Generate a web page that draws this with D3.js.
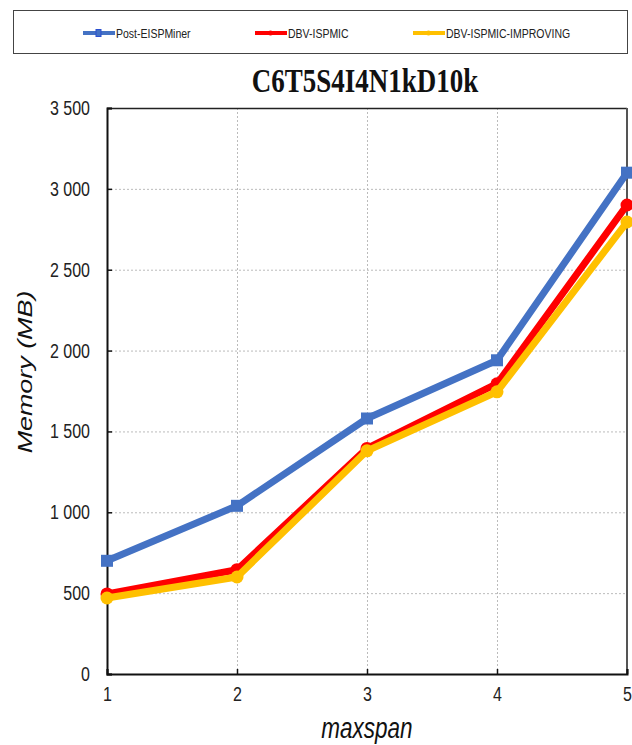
<!DOCTYPE html>
<html>
<head>
<meta charset="utf-8">
<script src="https://cdn.jsdelivr.net/npm/d3@7"></script>
<style>
  html, body { margin: 0; padding: 0; background: #fff; }
  svg { display: block; }
</style>
</head>
<body>
<svg id="chart" width="632" height="745"></svg>
<script>
// maxspan values on the x axis
const maxspan = [1, 2, 3, 4, 5];
// memory usage (MB) per algorithm
const postEISPMiner = [700, 1040, 1580, 1940, 3100];
const dbvISPMIC = [495, 645, 1395, 1795, 2900];
const dbvISPMICImproving = [470, 600, 1380, 1745, 2795];
const yTicks = [0, 500, 1000, 1500, 2000, 2500, 3000, 3500];
const seriesNames = ["Post-EISPMiner", "DBV-ISPMIC", "DBV-ISPMIC-IMPROVING"];
const chartTitle = "C6T5S4I4N1kD10k";

const series = [
  { name: seriesNames[0], values: postEISPMiner, color: "#4472C4", marker: "square" },
  { name: seriesNames[1], values: dbvISPMIC, color: "#FF0000", marker: "circle" },
  { name: seriesNames[2], values: dbvISPMICImproving, color: "#FFC000", marker: "circle" }
];

const svg = d3.select("#chart");
const plot = { left: 107, right: 627, top: 108, bottom: 674 };
const stretch = 1.28; // text is drawn taller than wide

const x = d3.scaleLinear().domain([1, 5]).range([plot.left, plot.right]);
const y = d3.scaleLinear().domain([0, 3500]).range([plot.bottom, plot.top]);

const fmt = v => d3.format(",")(v).replace(/,/g, " ");
const sans = "'Liberation Sans', Arial, sans-serif";

// legend box
svg.append("rect")
  .attr("x", 13.5).attr("y", 10.5).attr("width", 614).attr("height", 43)
  .attr("fill", "#fff").attr("stroke", "#444").attr("stroke-width", 1);

const legendX = [83, 255, 413];
series.forEach((s, i) => {
  const g = svg.append("g").attr("transform", `translate(${legendX[i]},33)`);
  g.append("line").attr("x1", 0).attr("x2", 32).attr("y1", 0).attr("y2", 0)
    .attr("stroke", s.color).attr("stroke-width", 4);
  if (s.marker === "square") {
    g.append("rect").attr("x", 13).attr("y", -3.5).attr("width", 5).attr("height", 7)
      .attr("fill", s.color).attr("stroke", "#2a4fd0").attr("stroke-width", 1);
  } else {
    g.append("circle").attr("cx", 15.5).attr("cy", 0).attr("r", 2.5).attr("fill", s.color);
  }
  g.append("text").attr("transform", `translate(33,4.5) scale(1,${stretch})`)
    .attr("font-family", "'Liberation Sans Narrow', 'Arial Narrow', sans-serif")
    .attr("font-size", 10.5).attr("fill", "#222").text(s.name);
});

// title
svg.append("text")
  .attr("transform", `translate(365,92) scale(1,1.22)`).attr("text-anchor", "middle")
  .attr("font-family", "'Liberation Serif', 'Times New Roman', serif")
  .attr("font-weight", "bold").attr("font-size", 27).attr("fill", "#111")
  .text(chartTitle);

// gridlines
const grid = svg.append("g");
grid.selectAll("line.h").data(yTicks.filter(v => v > 0 && v < 3500)).join("line")
  .attr("x1", plot.left).attr("x2", plot.right)
  .attr("y1", d => y(d) + 0.5).attr("y2", d => y(d) + 0.5)
  .attr("stroke", "#bbb").attr("stroke-width", 1).attr("stroke-dasharray", "2,2");
grid.selectAll("line.v").data(maxspan.filter(v => v > 1 && v < 5)).join("line")
  .attr("x1", d => x(d) + 0.5).attr("x2", d => x(d) + 0.5)
  .attr("y1", plot.top).attr("y2", plot.bottom)
  .attr("stroke", "#bbb").attr("stroke-width", 1).attr("stroke-dasharray", "2,2");

// plot frame (top and right)
svg.append("line").attr("x1", plot.left).attr("x2", plot.right)
  .attr("y1", plot.top + 0.5).attr("y2", plot.top + 0.5)
  .attr("stroke", "#222").attr("stroke-width", 1.5);
svg.append("line").attr("x1", plot.right).attr("x2", plot.right)
  .attr("y1", plot.top).attr("y2", plot.bottom)
  .attr("stroke", "#555").attr("stroke-width", 2);

// axes
const yAxis = d3.axisLeft(y).tickValues(yTicks).tickFormat(fmt).tickSize(-5).tickPadding(17);
const xAxis = d3.axisBottom(x).tickValues(maxspan).tickFormat(d3.format("d")).tickSize(-5).tickPadding(10);

const gy = svg.append("g").attr("transform", `translate(${plot.left},0)`).call(yAxis);
const gx = svg.append("g").attr("transform", `translate(0,${plot.bottom})`).call(xAxis);
[gy, gx].forEach(g => {
  g.select(".domain").attr("stroke", "#111").attr("stroke-width", 2);
  g.selectAll(".tick line").attr("stroke", "#111").attr("stroke-width", 1.5);
  g.selectAll(".tick text")
    .attr("font-family", sans)
    .attr("font-size", 16).attr("fill", "#222")
    .attr("transform", `scale(1,${stretch})`);
});
gx.selectAll(".tick text").attr("dy", "0.71em");

// axis titles
svg.append("text")
  .attr("transform", `translate(367,738) scale(1,${stretch})`).attr("text-anchor", "middle")
  .attr("font-family", sans)
  .attr("font-style", "italic").attr("font-size", 22.5).attr("fill", "#111")
  .text("maxspan");
svg.append("text")
  .attr("transform", `translate(32,372) rotate(-90) scale(${stretch},1)`).attr("text-anchor", "middle")
  .attr("font-family", sans)
  .attr("font-style", "italic").attr("font-size", 21).attr("fill", "#111")
  .text("Memory (MB)");

// series lines and markers
const line = d3.line().x((d, i) => x(maxspan[i])).y(d => y(d));
series.forEach(s => {
  svg.append("path").datum(s.values)
    .attr("d", line).attr("fill", "none")
    .attr("stroke", s.color).attr("stroke-width", 7).attr("stroke-linejoin", "round");
  const m = svg.append("g");
  if (s.marker === "square") {
    m.selectAll("rect").data(s.values).join("rect")
      .attr("x", (d, i) => x(maxspan[i]) - 6).attr("y", d => y(d) - 6)
      .attr("width", 12).attr("height", 12).attr("fill", s.color);
  } else {
    m.selectAll("circle").data(s.values).join("circle")
      .attr("cx", (d, i) => x(maxspan[i])).attr("cy", d => y(d))
      .attr("r", 6.5).attr("fill", s.color);
  }
});
</script>
</body>
</html>
